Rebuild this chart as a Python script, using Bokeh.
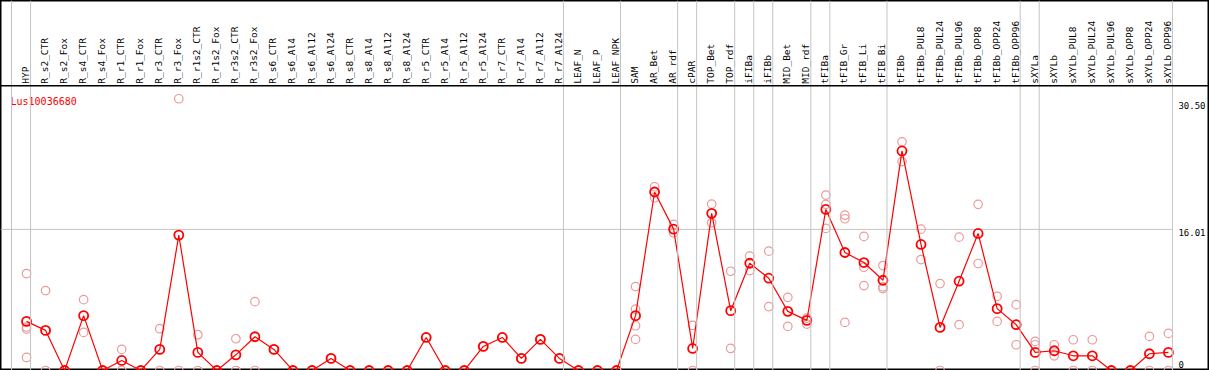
from bokeh.plotting import figure
from bokeh.models import Range1d, Span, ColumnDataSource
from bokeh.core.properties import value
from bokeh.embed import file_html
from bokeh.resources import INLINE
import math

gene = "Lus10036680"

categories = ["HYP", "R_s2_CTR", "R_s2_Fox", "R_s4_CTR", "R_s4_Fox", "R_r1_CTR", "R_r1_Fox",
              "R_r3_CTR", "R_r3_Fox", "R_r1s2_CTR", "R_r1s2_Fox", "R_r3s2_CTR", "R_r3s2_Fox",
              "R_s6_CTR", "R_s6_Al4", "R_s6_Al12", "R_s6_Al24", "R_s8_CTR", "R_s8_Al4", "R_s8_Al12",
              "R_s8_Al24", "R_r5_CTR", "R_r5_Al4", "R_r5_Al12", "R_r5_Al24", "R_r7_CTR", "R_r7_Al4",
              "R_r7_Al12", "R_r7_Al24", "LEAF_N", "LEAF_P", "LEAF_NPK", "SAM", "AR_Bet", "AR_rdf",
              "cPAR", "TOP_Bet", "TOP_rdf", "iFIBa", "iFIBb", "MID_Bet", "MID_rdf", "tFIBa",
              "tFIB_Gr", "tFIB_Li", "tFIB_Bi", "tFIBb", "tFIBb_PUL8", "tFIBb_PUL24", "tFIBb_PUL96",
              "tFIBb_OPP8", "tFIBb_OPP24", "tFIBb_OPP96", "sXYLa", "sXYLb", "sXYLb_PUL8",
              "sXYLb_PUL24", "sXYLb_PUL96", "sXYLb_OPP8", "sXYLb_OPP24", "sXYLb_OPP96"]

# number of categories in each separated group
group_sizes = [1, 28, 3, 3, 1, 2, 1, 1, 2, 1, 3, 7, 1, 7]

means = [5.57, 4.55, 0, 6.22, 0, 1.14, 0, 2.39, 15.36, 2.05, 0, 1.78, 3.83,
         2.39, 0, 0, 1.37, 0, 0, 0, 0, 3.75, 0, 0, 2.73, 3.75, 1.37, 3.53, 1.37, 0, 0, 0,
         6.22, 20.25, 16.04, 2.5, 17.83, 6.79, 12.17, 10.47, 6.71, 5.69, 18.28, 13.39, 12.25,
         10.24, 24.91, 14.3, 4.89, 10.13, 15.55, 7.02, 5.2, 2.05, 2.24, 1.67, 1.67, 0, 0, 1.9, 2.05]

replicates = [[11.0, 4.93, 4.7, 1.48], [9.07, 0], [0, 0], [8.04, 4.32], [0, 0], [2.39, 0], [0, 0],
              [4.74, 0], [30.83, 0], [4.06, 0], [0, 0], [3.6, 0], [7.81, 0],
              [2.39, 2.39], [0, 0], [0, 0], [1.37, 1.37], [0, 0], [0, 0], [0, 0], [0, 0],
              [3.75, 3.75], [0, 0], [0, 0], [2.73, 2.73], [3.75, 3.75], [1.37, 1.37],
              [3.53, 3.53], [1.37, 1.37], [0, 0], [0, 0], [0, 0],
              [9.52, 6.97, 5.08, 3.53], [20.85, 19.6], [16.57, 15.62], [5.12, 0],
              [18.88, 16.76], [11.26, 2.5], [12.97, 11.34], [13.54, 7.25], [8.3, 5.0],
              [5.95, 5.27], [19.9, 18.85, 16.12], [17.63, 17.22, 5.46], [15.21, 11.72, 9.63],
              [11.91, 9.48, 9.29], [25.94, 23.7], [16.04, 12.59], [9.86, 0], [15.13, 5.2],
              [18.85, 12.14], [8.42, 5.57], [7.47, 2.92], [3.3, 2.92, 0], [2.92, 1.67],
              [3.49, 0], [3.49, 0], [0, 0], [0, 0], [3.87, 0], [4.21, 0]]

tick_values = [30.50, 16.01, 0]
tick_labels = ["30.50", "16.01", "0"]
grid_value = 16.01

# ---- layout (pixel geometry -> data units) ----
W, H = 1209, 370
PX = 19.0          # px per category
X0 = 26.0          # first category position
PY = 8.79          # px per unit value
Y0 = 369.0         # zero line

def dx(px):
    return (px - X0) / PX

def dy(py):
    return (Y0 - py) / PY

p = figure(width=W, height=H, output_backend="svg", toolbar_location=None,
           x_range=Range1d(dx(0), dx(W - 2)), y_range=Range1d(dy(H - 1), dy(0)),
           x_axis_type=None, y_axis_type=None, min_border=0)
p.grid.visible = False
p.outline_line_color = "black"
p.outline_line_width = 2
p.background_fill_color = "white"
p.border_fill_color = "white"

xs = list(range(len(categories)))

# group separators
bounds = [-1]
acc = -1
for g in group_sizes:
    acc += g
    bounds.append(acc)
for b in bounds:
    p.add_layout(Span(location=b + 4.0 / PX, dimension="height", line_color="#c4c4c4", line_width=1))

# horizontal grid line at middle tick
p.segment(x0=[dx(0)], y0=[grid_value], x1=[bounds[-1] + 4.0 / PX], y1=[grid_value],
          line_color="#c4c4c4", line_width=1)

# header separator
p.add_layout(Span(location=dy(85), dimension="width", line_color="black", line_width=1.5))

# category labels
p.text(x=[x - 1.0 / PX for x in xs], y=[dy(83)] * len(xs), text=categories, angle=math.pi / 2,
       text_align="left", text_baseline="alphabetic", text_color="black",
       text_font=value("DejaVu Sans Mono"), text_font_size="9.5px")

# gene title
p.text(x=[dx(10)], y=[dy(101)], text=[gene], text_align="left", text_baseline="alphabetic",
       text_color="red", text_font=value("DejaVu Sans Mono"), text_font_size="10px")

# value labels on the right
bl = ["top", "top", "bottom"]
for v, lab, b in zip(tick_values, tick_labels, bl):
    yy = v if b == "top" else v + 2.5 / PY
    p.text(x=[dx(1176)], y=[yy], text=[lab], text_align="left", text_baseline=b,
           text_color="black", text_font=value("DejaVu Sans Mono"), text_font_size="9px")

# replicates
rx, ry = [], []
for i, reps in enumerate(replicates):
    for r in reps:
        rx.append(i)
        ry.append(r)
p.scatter(x=rx, y=ry, marker="circle", size=8.5, fill_color=None, line_color="#eb9a9a", line_width=1.2)

# mean line and markers
src = ColumnDataSource(data=dict(x=xs, y=means))
p.line("x", "y", source=src, line_color="red", line_width=1.2)
p.scatter("x", "y", source=src, marker="circle", size=9, fill_color=None, line_color="red", line_width=1.8)

open("out.html", "w").write(file_html(p, INLINE))
